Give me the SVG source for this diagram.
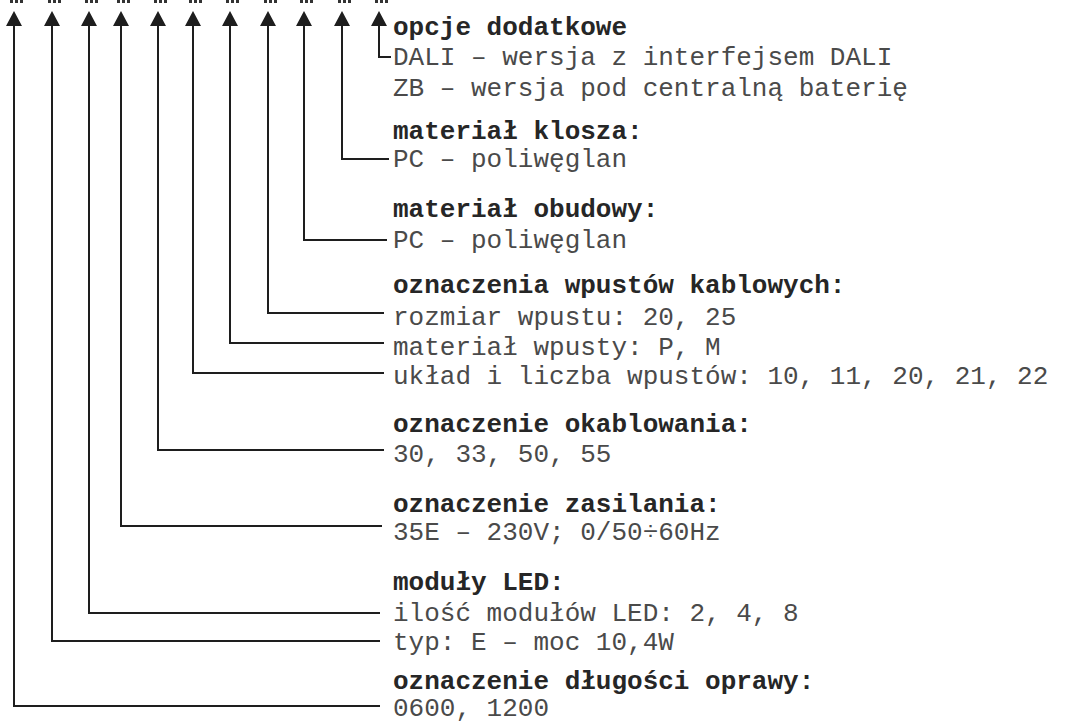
<svg xmlns="http://www.w3.org/2000/svg" width="1070" height="721" viewBox="0 0 1070 721">
  <style>
    .t { font-family: "Liberation Mono", "DejaVu Sans Mono", monospace; font-size: 26px; fill: #4a4a4a; }
    .h { font-family: "Liberation Mono", "DejaVu Sans Mono", monospace; font-size: 26px; font-weight: bold; fill: #262626; }
    .ln { fill: none; stroke: #1e1e1e; stroke-width: 2; }
    .dot { fill: #333; }
  </style>
  <defs>
    <path id="head" d="M0,-15 L8,0 L-8,0 Z" fill="#1e1e1e"/>
    <g id="dots">
      <rect class="dot" x="-2" y="0" width="3" height="3"/>
      <rect class="dot" x="3" y="0" width="3" height="3"/>
      <rect class="dot" x="8" y="0" width="3" height="3"/>
    </g>
  </defs>
  <rect width="1070" height="721" fill="#fff"/>

  <!-- code position markers along the top edge -->
  <g id="markers">
    <use href="#dots" x="12"/>
    <use href="#dots" x="50"/>
    <use href="#dots" x="87"/>
    <use href="#dots" x="119"/>
    <use href="#dots" x="156"/>
    <use href="#dots" x="191"/>
    <use href="#dots" x="228"/>
    <use href="#dots" x="266"/>
    <use href="#dots" x="302"/>
    <use href="#dots" x="340"/>
    <use href="#dots" x="377"/>
  </g>

  <!-- leader lines: vertical from arrowhead, then right to the description -->
  <g id="connectors">
    <path class="ln" d="M379,26 V57 H391"/>
    <path class="ln" d="M342,26 V159 H389"/>
    <path class="ln" d="M304,26 V240 H387"/>
    <path class="ln" d="M268,26 V313 H384"/>
    <path class="ln" d="M230,26 V343 H384"/>
    <path class="ln" d="M193,26 V373 H384"/>
    <path class="ln" d="M158,26 V450 H384"/>
    <path class="ln" d="M121,26 V526 H382"/>
    <path class="ln" d="M89,26 V613 H380"/>
    <path class="ln" d="M52,26 V641 H380"/>
    <path class="ln" d="M14,26 V706 H380"/>
    <use href="#head" x="379" y="26"/>
    <use href="#head" x="342" y="26"/>
    <use href="#head" x="304" y="26"/>
    <use href="#head" x="268" y="26"/>
    <use href="#head" x="230" y="26"/>
    <use href="#head" x="193" y="26"/>
    <use href="#head" x="158" y="26"/>
    <use href="#head" x="121" y="26"/>
    <use href="#head" x="89" y="26"/>
    <use href="#head" x="52" y="26"/>
    <use href="#head" x="14" y="26"/>
  </g>

  <g id="opcje">
    <text class="h" x="393" y="35">opcje dodatkowe</text>
    <text class="t" x="393" y="65">DALI – wersja z interfejsem DALI</text>
    <text class="t" x="393" y="96">ZB – wersja pod centralną baterię</text>
  </g>

  <g id="klosz">
    <text class="h" x="393" y="139">materiał klosza:</text>
    <text class="t" x="393" y="167">PC – poliwęglan</text>
  </g>

  <g id="obudowa">
    <text class="h" x="393" y="217">materiał obudowy:</text>
    <text class="t" x="393" y="248">PC – poliwęglan</text>
  </g>

  <g id="wpusty">
    <text class="h" x="393" y="293">oznaczenia wpustów kablowych:</text>
    <text class="t" x="393" y="325">rozmiar wpustu: 20, 25</text>
    <text class="t" x="393" y="355">materiał wpusty: P, M</text>
    <text class="t" x="393" y="384">układ i liczba wpustów: 10, 11, 20, 21, 22</text>
  </g>

  <g id="okablowanie">
    <text class="h" x="393" y="432">oznaczenie okablowania:</text>
    <text class="t" x="393" y="462">30, 33, 50, 55</text>
  </g>

  <g id="zasilanie">
    <text class="h" x="393" y="512">oznaczenie zasilania:</text>
    <text class="t" x="393" y="540">35E – 230V; 0/50÷60Hz</text>
  </g>

  <g id="moduly">
    <text class="h" x="393" y="590">moduły LED:</text>
    <text class="t" x="393" y="621">ilość modułów LED: 2, 4, 8</text>
    <text class="t" x="393" y="650">typ: E – moc 10,4W</text>
  </g>

  <g id="dlugosc">
    <text class="h" x="393" y="689">oznaczenie długości oprawy:</text>
    <text class="t" x="393" y="716">0600, 1200</text>
  </g>
</svg>
